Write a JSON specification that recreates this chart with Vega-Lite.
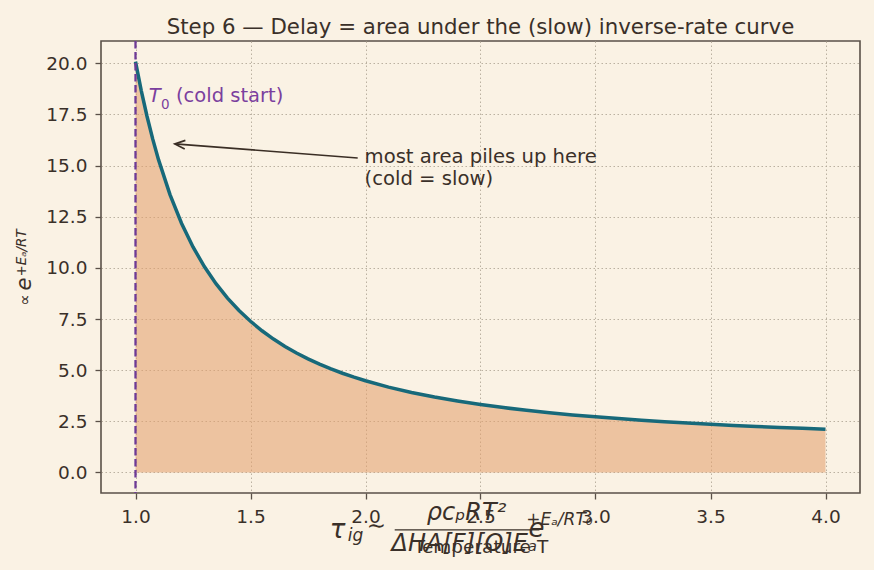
{
  "$schema": "https://vega.github.io/schema/vega-lite/v6.json",
  "autosize": {"type": "none"},
  "padding": {"left": 101, "top": 41, "right": 14, "bottom": 77},
  "width": 759,
  "height": 452,
  "background": "#FAF2E4",
  "config": {
    "font": "DejaVu Sans",
    "view": {"stroke": "#5a5048", "strokeWidth": 1.6},
    "axis": {
      "labelFont": "DejaVu Sans",
      "labelFontSize": 18.5,
      "labelColor": "#3a3029",
      "tickColor": "#5a5048",
      "tickSize": 6,
      "tickWidth": 1.3,
      "domain": false,
      "grid": true,
      "gridColor": "#b3a999",
      "gridDash": [1.5, 2.5],
      "gridWidth": 0.9,
      "titleFont": "DejaVu Sans",
      "titleFontSize": 18.5,
      "titleFontWeight": "normal",
      "titleColor": "#3a3029"
    }
  },
  "title": {
    "text": "Step 6 — Delay = area under the (slow) inverse-rate curve",
    "font": "DejaVu Sans",
    "fontSize": 21.3,
    "fontWeight": "normal",
    "color": "#3a3029",
    "anchor": "middle",
    "frame": "group",
    "baseline": "bottom",
    "offset": 6,
    "dy": 25
  },
  "datasets": {
    "curve": [
      {"T": 1.0, "v": 20.0855}, {"T": 1.025, "v": 18.6683}, {"T": 1.05, "v": 17.4117}, {"T": 1.075, "v": 16.2924},
      {"T": 1.1, "v": 15.2908}, {"T": 1.15, "v": 13.5808}, {"T": 1.2, "v": 12.1825}, {"T": 1.25, "v": 11.0232},
      {"T": 1.3, "v": 10.0512}, {"T": 1.35, "v": 9.2278}, {"T": 1.4, "v": 8.5238}, {"T": 1.45, "v": 7.9166},
      {"T": 1.5, "v": 7.3891}, {"T": 1.55, "v": 6.9274}, {"T": 1.6, "v": 6.5208}, {"T": 1.65, "v": 6.1607},
      {"T": 1.7, "v": 5.8399}, {"T": 1.75, "v": 5.5527}, {"T": 1.8, "v": 5.2945}, {"T": 1.85, "v": 5.0613},
      {"T": 1.9, "v": 4.8498}, {"T": 1.95, "v": 4.6574}, {"T": 2.0, "v": 4.4817}, {"T": 2.1, "v": 4.1727},
      {"T": 2.2, "v": 3.9104}, {"T": 2.3, "v": 3.6853}, {"T": 2.4, "v": 3.4903}, {"T": 2.5, "v": 3.3201},
      {"T": 2.6, "v": 3.1704}, {"T": 2.7, "v": 3.0377}, {"T": 2.8, "v": 2.9195}, {"T": 2.9, "v": 2.8137},
      {"T": 3.0, "v": 2.7183}, {"T": 3.1, "v": 2.632}, {"T": 3.2, "v": 2.5536}, {"T": 3.3, "v": 2.4821},
      {"T": 3.4, "v": 2.4166}, {"T": 3.5, "v": 2.3564}, {"T": 3.6, "v": 2.301}, {"T": 3.7, "v": 2.2497},
      {"T": 3.8, "v": 2.2022}, {"T": 3.9, "v": 2.1581}, {"T": 4.0, "v": 2.117}
    ]
  },
  "layer": [
    {
      "data": {"name": "curve"},
      "mark": {"type": "area", "fill": "#E4A16E", "opacity": 0.58},
      "encoding": {
        "x": {
          "field": "T", "type": "quantitative",
          "scale": {"domain": [0.85, 4.15], "nice": false, "zero": false},
          "axis": {"values": [1, 1.5, 2, 2.5, 3, 3.5, 4], "format": ".1f", "labelPadding": 8, "title": "Temperature T", "titlePadding": 12}
        },
        "y": {
          "field": "v", "type": "quantitative",
          "scale": {"domain": [-1.004, 21.09], "nice": false, "zero": false},
          "axis": {"values": [0, 2.5, 5, 7.5, 10, 12.5, 15, 17.5, 20], "format": ".1f", "labelPadding": 8, "title": null}
        }
      }
    },
    {
      "data": {"name": "curve"},
      "mark": {"type": "line", "stroke": "#17697A", "strokeWidth": 3.5},
      "encoding": {
        "x": {"field": "T", "type": "quantitative"},
        "y": {"field": "v", "type": "quantitative"}
      }
    },
    {
      "data": {"values": [{"T0": 1.0}]},
      "mark": {"type": "rule", "stroke": "#6E3A96", "strokeWidth": 2.3, "strokeDash": [7.5, 3.5]},
      "encoding": {"x": {"field": "T0", "type": "quantitative"}}
    },
    {
      "data": {"values": [{"x": 1.058, "y": 18.11, "label": "T"}]},
      "mark": {"type": "text", "align": "left", "baseline": "alphabetic", "fontSize": 19.5, "fontStyle": "italic", "color": "#7B3F9E"},
      "encoding": {
        "x": {"field": "x", "type": "quantitative"},
        "y": {"field": "y", "type": "quantitative"},
        "text": {"field": "label"}
      }
    },
    {
      "data": {"values": [{"x": 1.1105, "y": 17.75, "label": "0"}]},
      "mark": {"type": "text", "align": "left", "baseline": "alphabetic", "fontSize": 13.5, "color": "#7B3F9E"},
      "encoding": {
        "x": {"field": "x", "type": "quantitative"},
        "y": {"field": "y", "type": "quantitative"},
        "text": {"field": "label"}
      }
    },
    {
      "data": {"values": [{"x": 1.176, "y": 18.11, "label": "(cold start)"}]},
      "mark": {"type": "text", "align": "left", "baseline": "alphabetic", "fontSize": 19.5, "color": "#7B3F9E"},
      "encoding": {
        "x": {"field": "x", "type": "quantitative"},
        "y": {"field": "y", "type": "quantitative"},
        "text": {"field": "label"}
      }
    },
    {
      "data": {"values": [{"x": 1.966, "y": 15.37, "x2": 1.171, "y2": 16.06}]},
      "mark": {"type": "rule", "stroke": "#3a2e25", "strokeWidth": 1.7},
      "encoding": {
        "x": {"field": "x", "type": "quantitative"},
        "y": {"field": "y", "type": "quantitative"},
        "x2": {"field": "x2"},
        "y2": {"field": "y2"}
      }
    },
    {
      "data": {"values": [{"x": 1.171, "y": 16.06}]},
      "mark": {"type": "point", "shape": "M -1 -0.42 L 0 0 L -1 0.42", "size": 420, "angle": 184.4, "filled": false, "stroke": "#3a2e25", "strokeWidth": 1.7, "opacity": 1},
      "encoding": {
        "x": {"field": "x", "type": "quantitative"},
        "y": {"field": "y", "type": "quantitative"}
      }
    },
    {
      "data": {"values": [{"x": 1.996, "y": 15.13, "label": "most area piles up here\n(cold = slow)"}]},
      "mark": {"type": "text", "align": "left", "baseline": "alphabetic", "fontSize": 19.6, "lineBreak": "\n", "lineHeight": 22, "color": "#3a3029"},
      "encoding": {
        "x": {"field": "x", "type": "quantitative"},
        "y": {"field": "y", "type": "quantitative"},
        "text": {"field": "label"}
      }
    },
    {
      "data": {"values": [
        {"x": 1.879, "y": -3.2, "label": "τ", "size": 26, "align": "left"},
        {"x": 1.957, "y": -3.35, "label": "ig", "size": 17, "align": "left"},
        {"x": 2.439, "y": -2.32, "label": "ρcₚRT²", "size": 24, "align": "center"},
        {"x": 2.43, "y": -3.84, "label": "ΔHA[F][O]Eₐ", "size": 24, "align": "center"},
        {"x": 2.743, "y": -3.15, "label": "e", "size": 26, "align": "left"},
        {"x": 2.843, "y": -2.57, "label": "+Eₐ/RT₀", "size": 17, "align": "left"}
      ]},
      "mark": {"type": "text", "baseline": "alphabetic", "fontStyle": "italic", "color": "#3a3029"},
      "encoding": {
        "x": {"field": "x", "type": "quantitative"},
        "y": {"field": "y", "type": "quantitative"},
        "text": {"field": "label"},
        "size": {"field": "size", "type": "quantitative", "scale": null, "legend": null},
        "align": {"field": "align", "type": "nominal", "scale": null, "legend": null}
      }
    },
    {
      "data": {"values": [{"x": 2.005, "y": -2.61, "label": "∼"}]},
      "mark": {"type": "text", "align": "left", "baseline": "middle", "fontSize": 23, "color": "#3a3029"},
      "encoding": {
        "x": {"field": "x", "type": "quantitative"},
        "y": {"field": "y", "type": "quantitative"},
        "text": {"field": "label"}
      }
    },
    {
      "data": {"values": [{"x": 2.127, "x2": 2.756, "y": -2.81}]},
      "mark": {"type": "rule", "stroke": "#3a3029", "strokeWidth": 1.2},
      "encoding": {
        "x": {"field": "x", "type": "quantitative"},
        "x2": {"field": "x2"},
        "y": {"field": "y", "type": "quantitative"}
      }
    },
    {
      "data": {"values": [
        {"x": 0.52, "y": 8.43, "label": "∝", "size": 16},
        {"x": 0.52, "y": 9.21, "label": "e", "size": 21},
        {"x": 0.505, "y": 10.73, "label": "+Eₐ/RT", "size": 13.5}
      ]},
      "mark": {"type": "text", "angle": 270, "align": "center", "baseline": "middle", "fontStyle": "italic", "color": "#3a3029"},
      "encoding": {
        "x": {"field": "x", "type": "quantitative"},
        "y": {"field": "y", "type": "quantitative"},
        "text": {"field": "label"},
        "size": {"field": "size", "type": "quantitative", "scale": null, "legend": null}
      }
    }
  ]
}
